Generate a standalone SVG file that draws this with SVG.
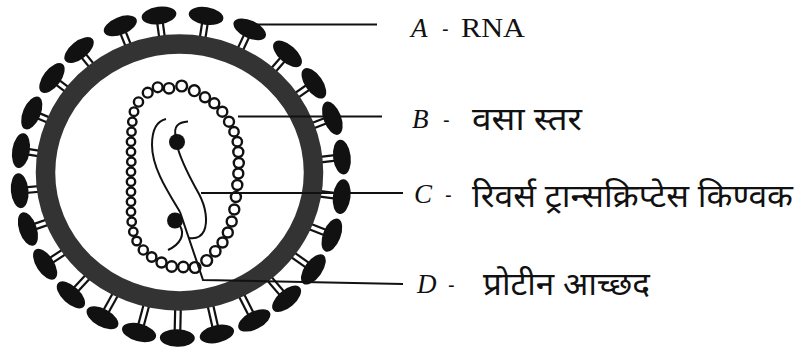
<svg xmlns="http://www.w3.org/2000/svg" xmlns:xlink="http://www.w3.org/1999/xlink" width="798" height="352" viewBox="0 0 798 352">
<style>
.head{fill:#111}
.stalk{stroke:#111;stroke-width:2.2;fill:none}
.ring{fill:#fff;stroke:#333;stroke-width:19.5}
.bead{fill:#fff;stroke:#111;stroke-width:2.4}
.strand{fill:none;stroke:#111;stroke-width:2}
.lead{fill:none;stroke:#111;stroke-width:2}
.let{font-family:"Liberation Serif",serif;font-style:italic;font-size:27px;fill:#111}
.dash{font-family:"Liberation Sans",sans-serif;font-size:20px;fill:#111}
.lat{font-family:"Liberation Serif",serif;font-size:28px;fill:#111}
.dev{font-family:"Noto Sans Devanagari","Lohit Devanagari","FreeSans","Noto Sans",sans-serif;font-size:32px;fill:#111}
</style>
<defs>
<g id="spike">
<line class="stalk" x1="300" y1="173.2" x2="343" y2="173.2"/>
<line class="stalk" x1="300" y1="178.8" x2="343" y2="178.8"/>
<ellipse class="head" cx="343" cy="176" rx="8.8" ry="17.5"/>
</g>
</defs>
<rect width="798" height="352" fill="#fff"/>
<g id="spikes">
<use xlink:href="#spike" href="#spike" transform="rotate(-112 181 176)"/>
<use xlink:href="#spike" href="#spike" transform="rotate(-97.8 181 176)"/>
<use xlink:href="#spike" href="#spike" transform="rotate(-81.1 181 176)"/>
<use xlink:href="#spike" href="#spike" transform="rotate(-64.9 181 176)"/>
<use xlink:href="#spike" href="#spike" transform="rotate(-48.9 181 176)"/>
<use xlink:href="#spike" href="#spike" transform="rotate(-34.9 181 176)"/>
<use xlink:href="#spike" href="#spike" transform="rotate(-20.9 181 176)"/>
<use xlink:href="#spike" href="#spike" transform="rotate(-6.7 181 176)"/>
<use xlink:href="#spike" href="#spike" transform="rotate(7.3 181 176)"/>
<use xlink:href="#spike" href="#spike" transform="rotate(21.4 181 176)"/>
<use xlink:href="#spike" href="#spike" transform="rotate(35.2 181 176)"/>
<use xlink:href="#spike" href="#spike" transform="rotate(49.3 181 176)"/>
<use xlink:href="#spike" href="#spike" transform="rotate(63.1 181 176)"/>
<use xlink:href="#spike" href="#spike" transform="rotate(77.2 181 176)"/>
<use xlink:href="#spike" href="#spike" transform="rotate(91.3 181 176)"/>
<use xlink:href="#spike" href="#spike" transform="rotate(105 181 176)"/>
<use xlink:href="#spike" href="#spike" transform="rotate(119 181 176)"/>
<use xlink:href="#spike" href="#spike" transform="rotate(132.8 181 176)"/>
<use xlink:href="#spike" href="#spike" transform="rotate(147 181 176)"/>
<use xlink:href="#spike" href="#spike" transform="rotate(160.9 181 176)"/>
<use xlink:href="#spike" href="#spike" transform="rotate(174.8 181 176)"/>
<use xlink:href="#spike" href="#spike" transform="rotate(189 181 176)"/>
<use xlink:href="#spike" href="#spike" transform="rotate(202.9 181 176)"/>
<use xlink:href="#spike" href="#spike" transform="rotate(217.2 181 176)"/>
<use xlink:href="#spike" href="#spike" transform="rotate(231 181 176)"/>
</g>
<g id="envelope">
<ellipse class="ring" cx="179.5" cy="172.5" rx="134" ry="128.5"/>
</g>
<g id="capsid">
<circle class="bead" cx="143.3" cy="250" r="4.6"/>
<circle class="bead" cx="136.7" cy="241" r="4.3"/>
<circle class="bead" cx="133.3" cy="231.7" r="4.2"/>
<circle class="bead" cx="131.7" cy="221.7" r="4.2"/>
<circle class="bead" cx="131" cy="211.7" r="4.2"/>
<circle class="bead" cx="131" cy="201.7" r="4.2"/>
<circle class="bead" cx="131" cy="191.7" r="4.2"/>
<circle class="bead" cx="131" cy="181.7" r="4.2"/>
<circle class="bead" cx="131" cy="171.7" r="4.2"/>
<circle class="bead" cx="131.3" cy="161.7" r="4.2"/>
<circle class="bead" cx="131" cy="151.7" r="4.2"/>
<circle class="bead" cx="131" cy="141.7" r="4.2"/>
<circle class="bead" cx="131.5" cy="131.7" r="4.2"/>
<circle class="bead" cx="132.3" cy="121.7" r="4.2"/>
<circle class="bead" cx="134" cy="111.7" r="4.3"/>
<circle class="bead" cx="138.5" cy="102" r="4.6"/>
<circle class="bead" cx="147.7" cy="92.7" r="4.9"/>
<circle class="bead" cx="157.7" cy="87.3" r="4.9"/>
<circle class="bead" cx="169" cy="88.3" r="5.2"/>
<circle class="bead" cx="181.7" cy="86" r="5.4"/>
<circle class="bead" cx="194.3" cy="90.7" r="5.4"/>
<circle class="bead" cx="205" cy="97.3" r="5"/>
<circle class="bead" cx="214.3" cy="103.3" r="5"/>
<circle class="bead" cx="222.3" cy="111.7" r="5"/>
<circle class="bead" cx="229" cy="121.7" r="5"/>
<circle class="bead" cx="234" cy="131.7" r="4.7"/>
<circle class="bead" cx="237.3" cy="141.7" r="4.7"/>
<circle class="bead" cx="238.3" cy="152" r="5"/>
<circle class="bead" cx="238.8" cy="163" r="5"/>
<circle class="bead" cx="238.3" cy="173.5" r="5"/>
<circle class="bead" cx="237.3" cy="185" r="5"/>
<circle class="bead" cx="235.9" cy="197" r="5"/>
<circle class="bead" cx="234.3" cy="209.5" r="5"/>
<circle class="bead" cx="231.7" cy="221.5" r="5"/>
<circle class="bead" cx="227.8" cy="232.5" r="5"/>
<circle class="bead" cx="222.5" cy="242.5" r="5"/>
<circle class="bead" cx="215.3" cy="251.3" r="5.2"/>
<circle class="bead" cx="206.7" cy="260.5" r="5.4"/>
<circle class="bead" cx="195" cy="267.5" r="5.4"/>
<circle class="bead" cx="183.3" cy="267" r="5.2"/>
<circle class="bead" cx="171.7" cy="266.5" r="5.2"/>
<circle class="bead" cx="161.5" cy="262.5" r="5"/>
<circle class="bead" cx="151.7" cy="257" r="4.7"/>
</g>
<g id="rna">
<path class="strand" d="M166,119 C157,121 152,129 152,145 C152,168 168,192 180,212"/>
<circle cx="177" cy="142" r="8" fill="#111"/>
<path class="strand" d="M176,137 C173,127 178,122 188,121.5"/>
<path class="strand" d="M178,149 C182,162 190,178 199,194 C206,207 208,222 204,231 C201,237 195,239 189,238"/>
<circle cx="175" cy="220.5" r="8" fill="#111"/>
<path class="strand" d="M180,226 C185,234 181,244 168,250"/>
</g>
<g id="connectors">
<line class="lead" x1="256" y1="24.5" x2="377" y2="24.5"/>
<line class="lead" x1="238" y1="116.5" x2="382" y2="116.5"/>
<line class="lead" x1="201" y1="193" x2="403" y2="193"/>
<path class="lead" d="M180,212 L203,280 L403,284"/>
</g>
<g id="label-A">
<text class="let" x="411" y="37">A</text>
<text class="dash" x="442" y="36">-</text>
<text class="lat" x="461" y="37" textLength="64" lengthAdjust="spacingAndGlyphs">RNA</text>
</g>
<g id="label-B">
<text class="let" x="412" y="128">B</text>
<text class="dash" x="443" y="127">-</text>
<text class="dev" x="472" y="130" textLength="110" lengthAdjust="spacingAndGlyphs">वसा स्तर</text>
</g>
<g id="label-C">
<text class="let" x="414" y="203">C</text>
<text class="dash" x="445" y="202">-</text>
<text class="dev" x="472" y="207" textLength="321" lengthAdjust="spacingAndGlyphs">रिवर्स ट्रान्सक्रिप्टेस किण्वक</text>
</g>
<g id="label-D">
<text class="let" x="417" y="293">D</text>
<text class="dash" x="448" y="292">-</text>
<text class="dev" x="483" y="295" textLength="167" lengthAdjust="spacingAndGlyphs">प्रोटीन आच्छद</text>
</g>
</svg>
